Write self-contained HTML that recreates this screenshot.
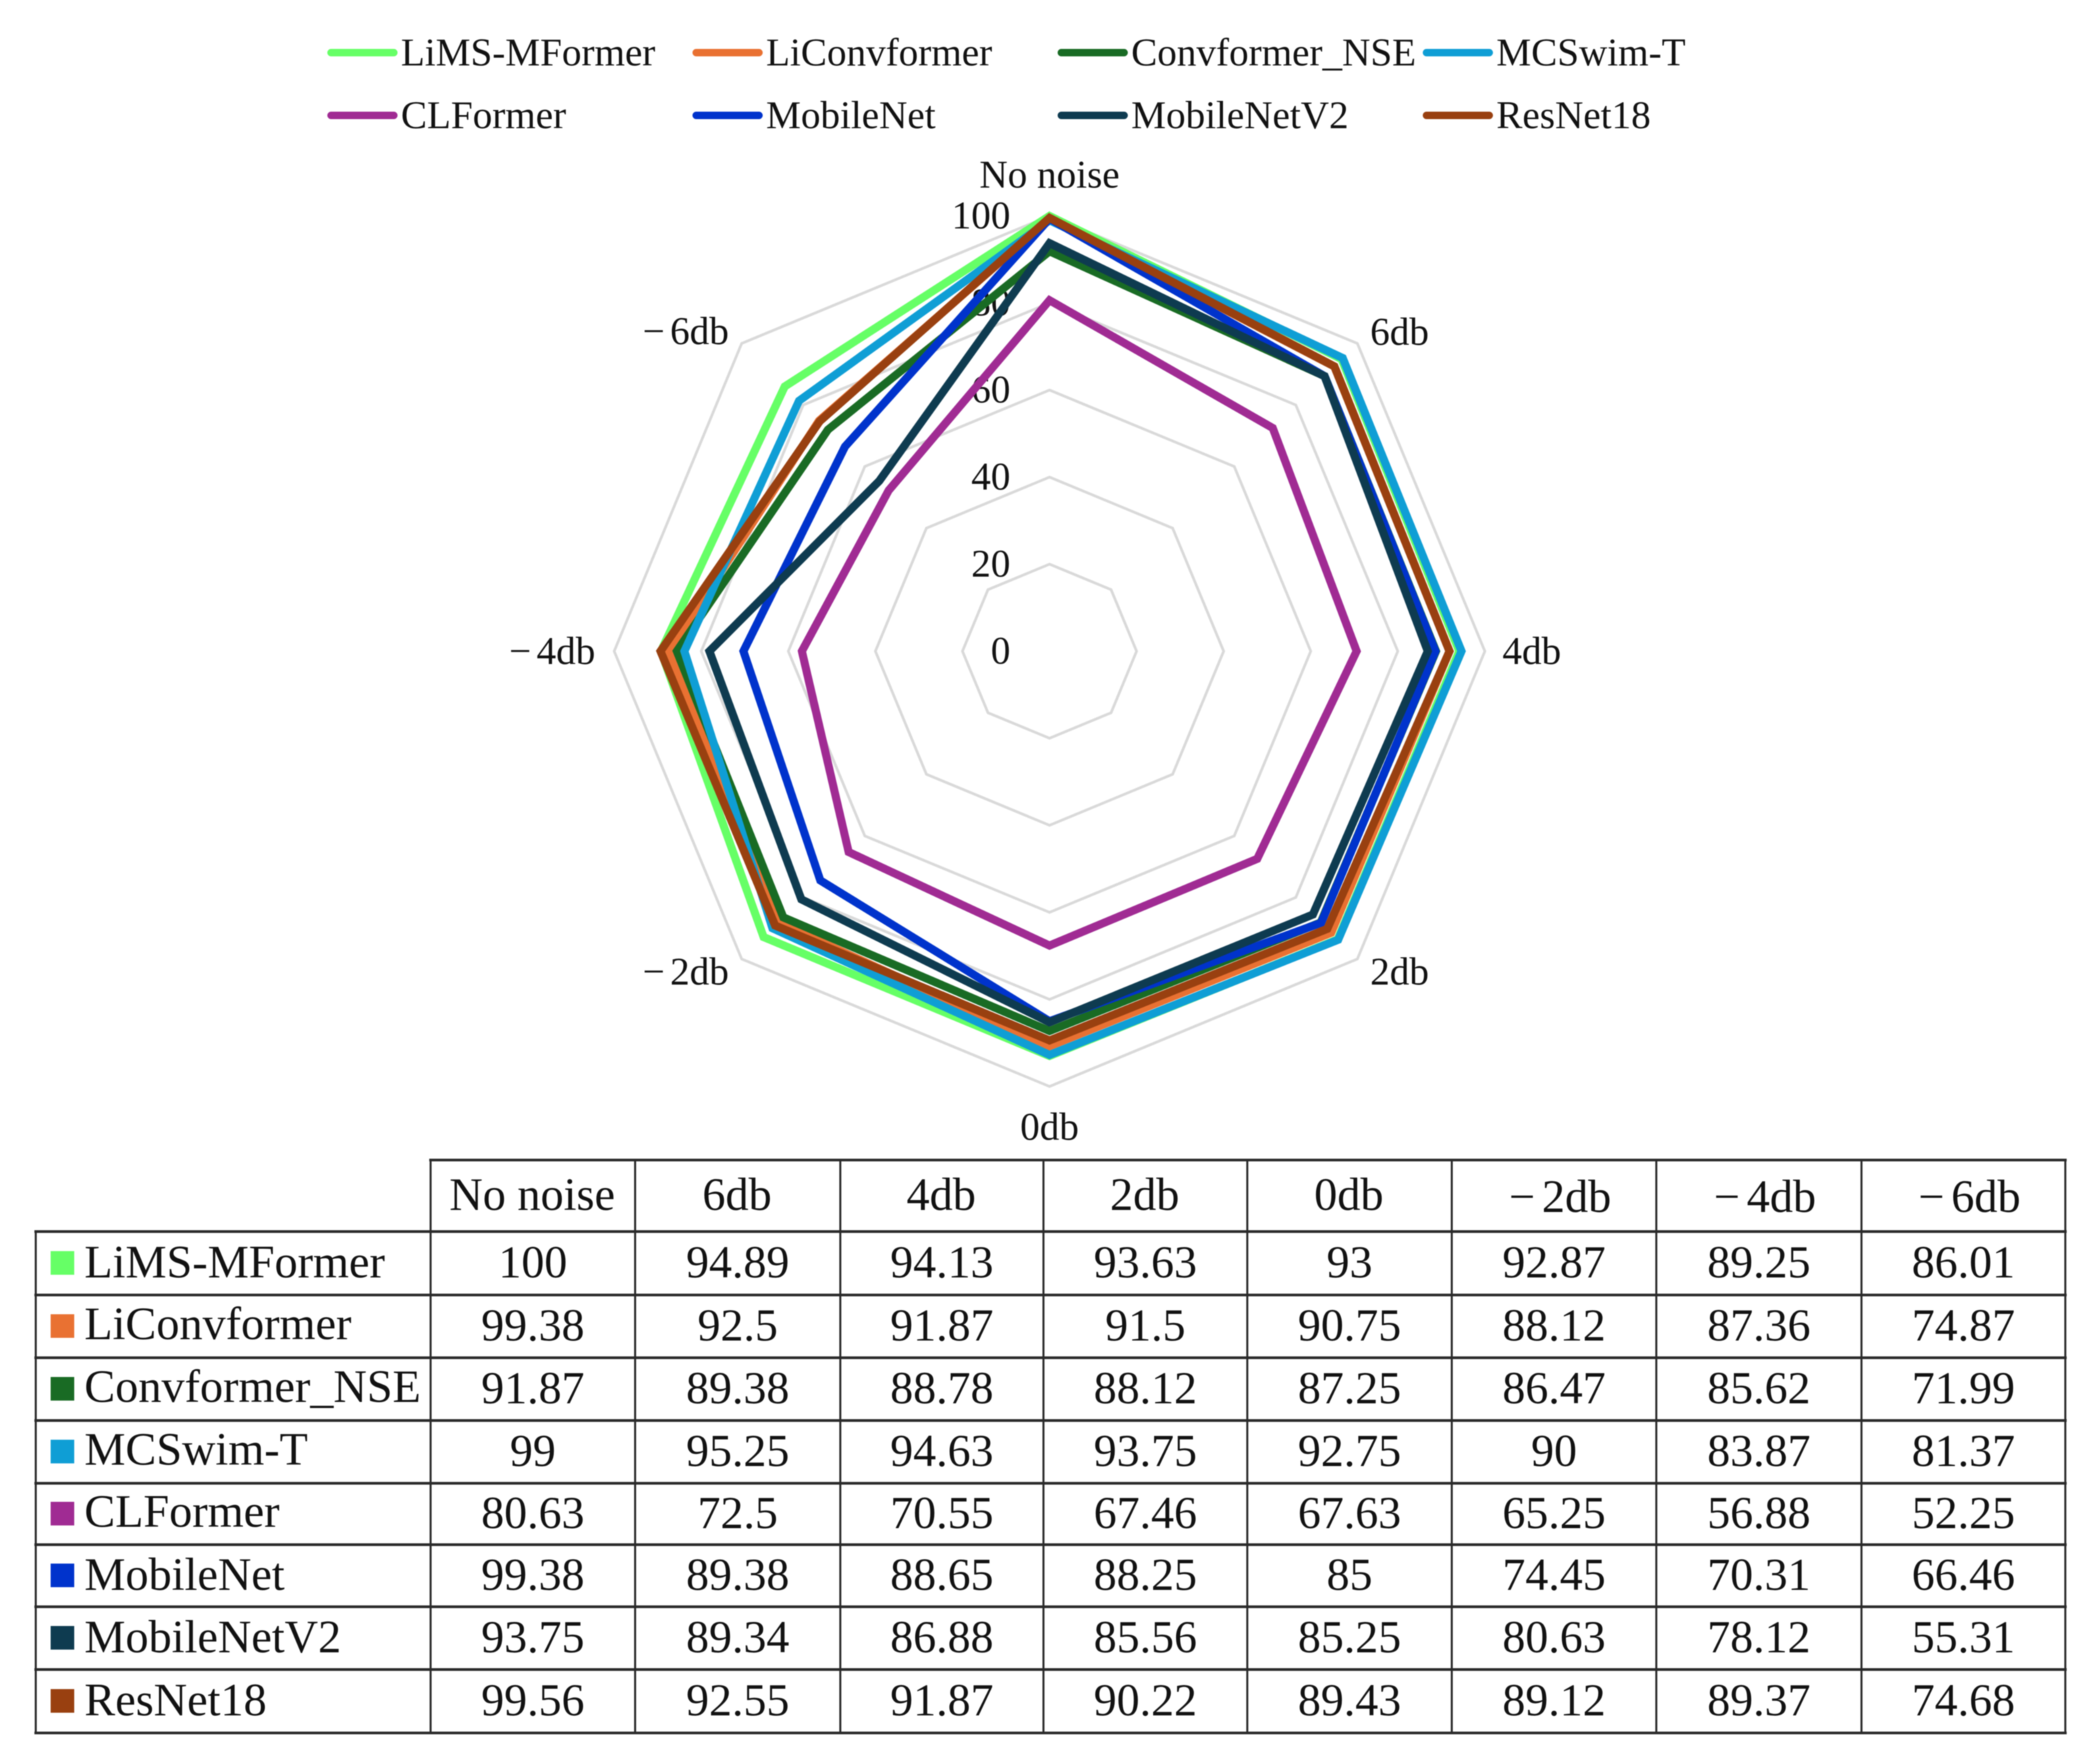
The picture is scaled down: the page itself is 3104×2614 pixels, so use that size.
<!DOCTYPE html>
<html lang="en">
<head>
<meta charset="utf-8">
<title>Radar chart of model accuracy under noise</title>
<style>
  html, body { margin: 0; padding: 0; background: #fff; }
  #chart { display: block; width: 3104px; height: 2614px; filter: blur(0.7px); }
  text { font-family: "Liberation Serif", "Times New Roman", serif; fill: #111; }
</style>
</head>
<body>
<svg id="chart" xmlns="http://www.w3.org/2000/svg" width="3104" height="2614" viewBox="0 0 3104 2614">
  <rect width="3104" height="2614" fill="#ffffff"></rect>
  <g id="legend"></g>
  <g id="grid"></g>
  <g id="ticks"></g>
  <g id="cats"></g>
  <g id="series"></g>
  <g id="table"></g>
</svg>
<script>
const categories = ['No noise', '6db', '4db', '2db', '0db', '\u22122db', '\u22124db', '\u22126db'];
const radialTicks = [0, 20, 40, 60, 80, 100];
const seriesNames = ['LiMS-MFormer', 'LiConvformer', 'Convformer_NSE', 'MCSwim-T', 'CLFormer', 'MobileNet', 'MobileNetV2', 'ResNet18'];
const limsMformer = [100, 94.89, 94.13, 93.63, 93, 92.87, 89.25, 86.01];
const liConvformer = [99.38, 92.5, 91.87, 91.5, 90.75, 88.12, 87.36, 74.87];
const convformerNse = [91.87, 89.38, 88.78, 88.12, 87.25, 86.47, 85.62, 71.99];
const mcSwimT = [99, 95.25, 94.63, 93.75, 92.75, 90, 83.87, 81.37];
const clFormer = [80.63, 72.5, 70.55, 67.46, 67.63, 65.25, 56.88, 52.25];
const mobileNet = [99.38, 89.38, 88.65, 88.25, 85, 74.45, 70.31, 66.46];
const mobileNetV2 = [93.75, 89.34, 86.88, 85.56, 85.25, 80.63, 78.12, 55.31];
const resNet18 = [99.56, 92.55, 91.87, 90.22, 89.43, 89.12, 89.37, 74.68];
const seriesValues = [limsMformer, liConvformer, convformerNse, mcSwimT, clFormer, mobileNet, mobileNetV2, resNet18];
const seriesColors = ['#66FF66', '#E97132', '#196B24', '#0F9ED5', '#A02B93', '#0033CC', '#0E3B50', '#994010'];

const SVG_NS = 'http://www.w3.org/2000/svg';
const CX = 1555, CY = 965, RADIUS = 645, AXIS_MAX = 100;

function radius(v) { return v / AXIS_MAX * RADIUS; }
function angle(i) { return i * 2 * Math.PI / categories.length; }
function px(i, v) { return CX + radius(v) * Math.sin(angle(i)); }
function py(i, v) { return CY - radius(v) * Math.cos(angle(i)); }
function slug(s) { return s.toLowerCase().replace(/\u2212/g, 'minus-').replace(/[^a-z0-9]+/g, '-'); }
function make(tag, parent) {
  const el = document.createElementNS(SVG_NS, tag);
  parent.appendChild(el);
  return el;
}
function setAttrs(el, attrs) {
  Object.keys(attrs).forEach(function (k) { el.setAttribute(k, attrs[k]); });
}
/* The reference sets a wider gap after the minus sign. */
function setCategoryText(el, str, gap) {
  if (str.charAt(0) === '\u2212') {
    const minus = make('tspan', el);
    
    
    minus.setAttribute('letter-spacing', gap);
    minus.textContent = '\u2212';
    const rest = make('tspan', el);
    
    
    rest.textContent = str.slice(1);
  } else {
    el.textContent = str;
  }
}

/* Grid rings */
const gridG = document.getElementById('grid');
radialTicks.forEach(function (t) {
  if (t === 0) return;
  const ring = make('polygon', gridG);
  
  
  setAttrs(ring, {
    points: categories.map(function (c, i) { return px(i, t).toFixed(1) + ',' + py(i, t).toFixed(1); }).join(' '),
    fill: 'none', stroke: '#d9d9d9', 'stroke-width': 4
  });
});

/* Radial tick labels */
const ticksG = document.getElementById('ticks');
radialTicks.forEach(function (t) {
  const label = make('text', ticksG);
  
  
  setAttrs(label, { x: 1497, y: (CY - radius(t) + 18.5).toFixed(1), 'text-anchor': 'end', 'font-size': 58 });
  label.textContent = String(t);
});

/* Category labels */
const catOffsets = [
  { dx: 0, dy: -42, anchor: 'middle' },
  { dx: 19, dy: 2, anchor: 'start' },
  { dx: 26, dy: 19, anchor: 'start' },
  { dx: 19, dy: 38, anchor: 'start' },
  { dx: 0, dy: 79, anchor: 'middle' },
  { dx: -19, dy: 38, anchor: 'end' },
  { dx: -28, dy: 19, anchor: 'end' },
  { dx: -19, dy: 1, anchor: 'end' }
];
const catsG = document.getElementById('cats');
categories.forEach(function (c, i) {
  const off = catOffsets[i];
  const label = make('text', catsG);
  
  
  setAttrs(label, {
    x: (px(i, AXIS_MAX) + off.dx).toFixed(1),
    y: (py(i, AXIS_MAX) + off.dy).toFixed(1),
    'text-anchor': off.anchor,
    'font-size': 58
  });
  setCategoryText(label, c, 8);
});

/* Series */
const seriesG = document.getElementById('series');
seriesValues.forEach(function (vals, s) {
  const line = make('polygon', seriesG);
  
  
  setAttrs(line, {
    points: vals.map(function (v, i) { return px(i, v).toFixed(1) + ',' + py(i, v).toFixed(1); }).join(' '),
    fill: 'none', stroke: seriesColors[s], 'stroke-width': 12,
    'stroke-linejoin': 'miter', 'stroke-miterlimit': 8
  });
});

/* Legend */
const legendCols = [485, 1026, 1567, 2108];
const legendRows = [78, 171];
const legendG = document.getElementById('legend');
seriesNames.forEach(function (name, s) {
  const lx = legendCols[s % 4];
  const ly = legendRows[Math.floor(s / 4)];
  const entry = make('g', legendG);
  
  
  const swatch = make('line', entry);
  
  
  setAttrs(swatch, { x1: lx + 5.5, x2: lx + 98.5, y1: ly, y2: ly, stroke: seriesColors[s], 'stroke-width': 11, 'stroke-linecap': 'round' });
  const label = make('text', entry);
  
  
  setAttrs(label, { x: lx + 109, y: ly + 19, 'font-size': 58 });
  label.textContent = name;
});

/* Table */
const tableG = document.getElementById('table');
const colEdges = [53, 638, 941, 1245, 1546, 1848, 2151, 2454, 2758, 3060];
const rowEdges = [1719, 1825, 1919, 2012, 2105, 2198, 2289, 2381, 2474, 2568];
const labelNudge = [0, -2, -2, -2, -2, 0, 0, 0];
function rule(x1, y1, x2, y2, width, name) {
  const l = make('line', tableG);
  
  
  setAttrs(l, { x1: x1, y1: y1, x2: x2, y2: y2, stroke: '#2a2a2a', 'stroke-width': width, 'stroke-linecap': 'square' });
}
rowEdges.forEach(function (y, r) {
  rule(r === 0 ? colEdges[1] : colEdges[0], y, colEdges[colEdges.length - 1], y, 4, 'table-row-rule');
});
colEdges.forEach(function (x, c) {
  rule(x, c === 0 ? rowEdges[1] : rowEdges[0], x, rowEdges[rowEdges.length - 1], 3, 'table-column-rule');
});
categories.forEach(function (c, i) {
  const cell = make('text', tableG);
  
  
  const isNeg = c.charAt(0) === '\u2212';
  setAttrs(cell, {
    x: (colEdges[i + 1] + colEdges[i + 2]) / 2 + (isNeg ? 9 : -1),
    y: isNeg ? 1796 : 1793, 'text-anchor': 'middle', 'font-size': 68.5
  });
  setCategoryText(cell, c, 10);
});
seriesNames.forEach(function (name, s) {
  const rowCenter = (rowEdges[s + 1] + rowEdges[s + 2]) / 2;
  const key = make('rect', tableG);
  
  
  setAttrs(key, { x: 75, y: rowCenter - 18, width: 35, height: 35, fill: seriesColors[s] });
  const label = make('text', tableG);
  
  
  setAttrs(label, { x: 125, y: rowCenter + 21 + labelNudge[s], 'font-size': 68.5 });
  label.textContent = name;
  seriesValues[s].forEach(function (v, i) {
    const cell = make('text', tableG);
    
    
    setAttrs(cell, { x: (colEdges[i + 1] + colEdges[i + 2]) / 2, y: rowCenter + 21, 'text-anchor': 'middle', 'font-size': 68 });
    cell.textContent = String(v);
  });
});
</script>
</body>
</html>
